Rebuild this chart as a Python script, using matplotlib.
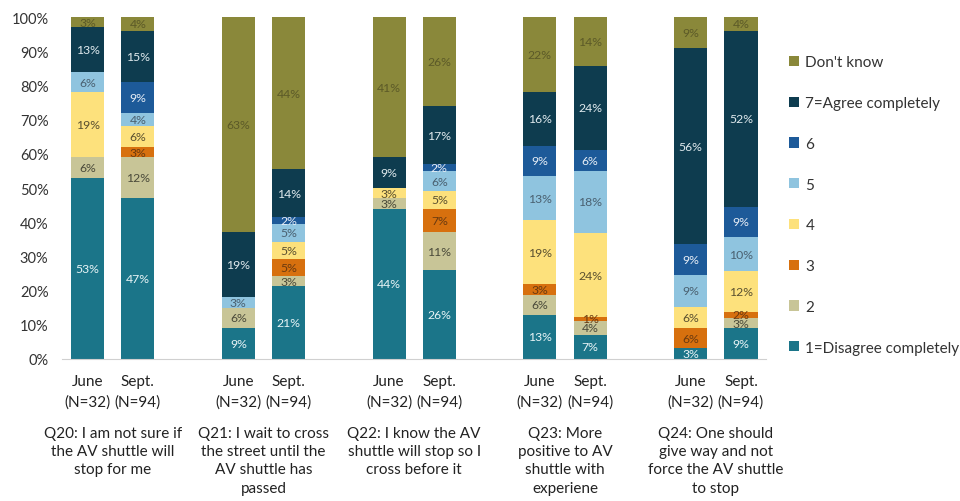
import matplotlib
matplotlib.use("Agg")
import matplotlib.pyplot as plt
import numpy as np

plt.rcParams['font.family'] = ['Lato', 'DejaVu Sans']

categories = ["1=Disagree completely", "2", "3", "4", "5", "6", "7=Agree completely", "Don't know"]
bar_labels = ["June\n(N=32)", "Sept.\n(N=94)"] * 5
questions = ["Q20: I am not sure if\nthe AV shuttle will\nstop for me",
             "Q21: I wait to cross\nthe street until the\nAV shuttle has\npassed",
             "Q22: I know the AV\nshuttle will stop so I\ncross before it",
             "Q23: More\npositive to AV\nshuttle with\nexperiene",
             "Q24: One should\ngive way and not\nforce the AV shuttle\nto stop"]

# values per category, one entry per bar (Q20 June, Q20 Sept, Q21 June, ...)
v1 = [53, 47, 9, 21, 44, 26, 13, 7, 3, 9]
v2 = [6, 12, 6, 3, 3, 11, 6, 4, 0, 3]
v3 = [0, 3, 0, 5, 0, 7, 3, 1, 6, 2]
v4 = [19, 6, 0, 5, 3, 5, 19, 24, 6, 12]
v5 = [6, 4, 3, 5, 0, 6, 13, 18, 9, 10]
v6 = [0, 9, 0, 2, 0, 2, 9, 6, 9, 9]
v7 = [13, 15, 19, 14, 9, 17, 16, 24, 56, 52]
vdk = [3, 4, 63, 44, 41, 26, 22, 14, 9, 4]
series = [v1, v2, v3, v4, v5, v6, v7, vdk]

colors = ["#1b7589", "#c8c597", "#d7700e", "#fde17c", "#8fc4df", "#1d5a99", "#0e3c4f", "#8a883a"]
text_colors = ["#e8f4f6", "#4a4a3a", "#6a3a10", "#5a5030", "#4a6070", "#e8eef6", "#e0eaee", "#5c5a28"]

fig = plt.figure(figsize=(9.6, 5.02), dpi=100)
ax = fig.add_axes([0.065, 0.283, 0.733, 0.681])

x = np.array([0, 1, 3, 4, 6, 7, 9, 10, 12, 13], dtype=float)
data = np.array(series, dtype=float)
totals = data.sum(axis=0)
shares = data / totals * 100  # 100% stacked bars
bottom = np.zeros(len(x))
handles = []
for vals, shown, c, tc, name in zip(shares, data, colors, text_colors, categories):
    h = ax.bar(x, vals, 0.66, bottom=bottom, color=c, label=name, linewidth=0)
    handles.append(h)
    for xi, b, v, s in zip(x, bottom, vals, shown):
        if s > 0:
            ax.text(xi, b + v / 2, f"{int(s)}%", ha='center', va='center',
                    fontsize=8.8, color=tc)
    bottom += vals

ax.set_xlim(-0.5, 13.5)
ax.set_ylim(0, 100)
ax.set_yticks(np.arange(0, 101, 10))
ax.set_yticklabels([f"{t}%" for t in range(0, 101, 10)], fontsize=10.5, color="#333333")
ax.tick_params(axis='y', length=0, pad=10)
ax.set_xticks(x)
ax.set_xticklabels(bar_labels, fontsize=11, color="#222222", linespacing=1.55)
ax.tick_params(axis='x', length=0, pad=11)
for s in ['top', 'right', 'left']:
    ax.spines[s].set_visible(False)
ax.spines['bottom'].set_color("#d0d0d0")

for i, q in enumerate(questions):
    xc = (x[2 * i] + x[2 * i + 1]) / 2
    ax.text(xc, -19.5, q, ha='center', va='top', fontsize=11, color="#222222",
            linespacing=1.4, transform=ax.transData, clip_on=False)

leg = fig.legend(handles[::-1], categories[::-1], loc='upper left',
                 bbox_to_anchor=(0.808, 0.915), frameon=False, fontsize=11,
                 handlelength=0.65, handleheight=0.65, handletextpad=0.4,
                 labelspacing=1.75, labelcolor="#333333")

fig.savefig("out.png", dpi=100)
